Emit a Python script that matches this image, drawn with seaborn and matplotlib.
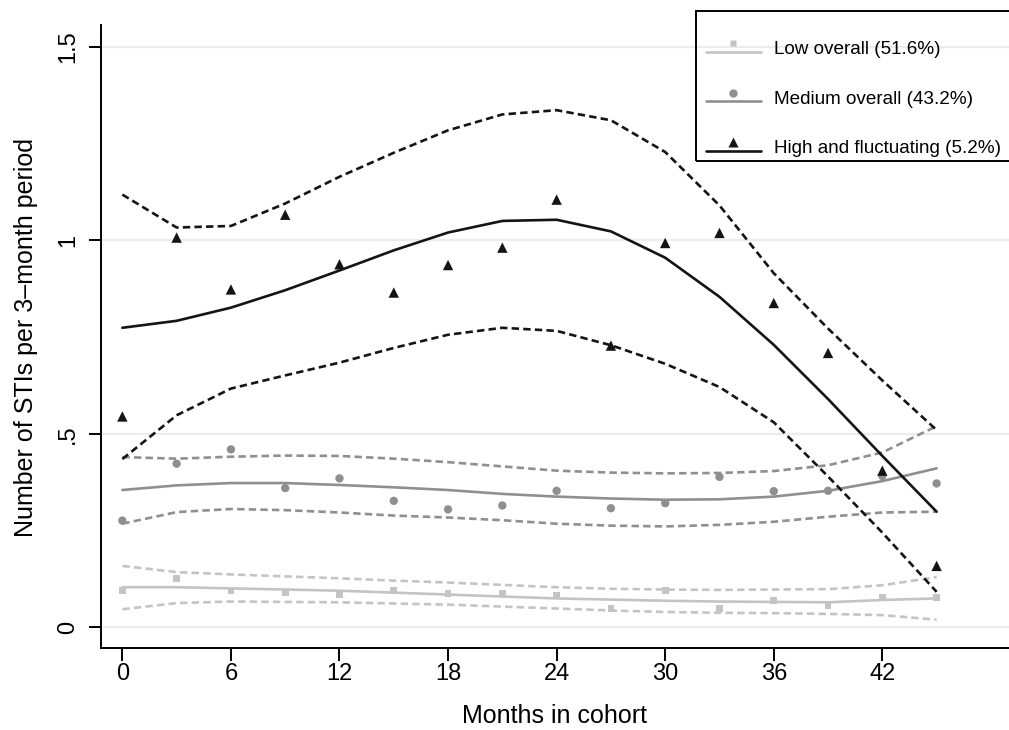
import numpy as np
import pandas as pd
import matplotlib
matplotlib.use("Agg")
import matplotlib.pyplot as plt
import seaborn as sns
from matplotlib.lines import Line2D
from matplotlib.patches import Rectangle
from matplotlib.legend_handler import HandlerLine2D, HandlerTuple

# months in cohort (3-month periods)
months = [0, 3, 6, 9, 12, 15, 18, 21, 24, 27, 30, 33, 36, 39, 42, 45]

# low overall
low_obs = [0.095, 0.126, 0.096, 0.089, 0.086, 0.095, 0.087, 0.089, 0.084, 0.050, 0.095, 0.050, 0.069, 0.057, 0.077, 0.078]
low_fit = [0.104, 0.104, 0.101, 0.098, 0.095, 0.090, 0.085, 0.080, 0.075, 0.072, 0.069, 0.067, 0.066, 0.065, 0.071, 0.075]
low_hi = [0.159, 0.143, 0.137, 0.132, 0.127, 0.121, 0.116, 0.110, 0.104, 0.100, 0.098, 0.097, 0.098, 0.099, 0.109, 0.130]
low_lo = [0.047, 0.063, 0.067, 0.066, 0.065, 0.062, 0.059, 0.054, 0.049, 0.044, 0.040, 0.038, 0.037, 0.035, 0.032, 0.020]

# medium overall
med_obs = [0.276, 0.423, 0.460, 0.360, 0.385, 0.327, 0.305, 0.315, 0.353, 0.308, 0.321, 0.389, 0.352, 0.353, 0.391, 0.372]
med_fit = [0.355, 0.367, 0.373, 0.373, 0.368, 0.362, 0.355, 0.345, 0.338, 0.333, 0.330, 0.331, 0.338, 0.353, 0.378, 0.411]
med_hi = [0.440, 0.436, 0.441, 0.444, 0.443, 0.436, 0.427, 0.416, 0.405, 0.400, 0.398, 0.399, 0.404, 0.419, 0.452, 0.520]
med_lo = [0.268, 0.298, 0.306, 0.303, 0.297, 0.289, 0.284, 0.277, 0.268, 0.263, 0.261, 0.265, 0.273, 0.286, 0.297, 0.299]

# high and fluctuating
high_obs = [0.545, 1.007, 0.873, 1.066, 0.938, 0.865, 0.936, 0.981, 1.105, 0.728, 0.993, 1.019, 0.838, 0.709, 0.405, 0.159]
high_fit = [0.774, 0.792, 0.826, 0.871, 0.922, 0.974, 1.020, 1.050, 1.053, 1.023, 0.955, 0.854, 0.730, 0.590, 0.443, 0.299]
high_hi = [1.118, 1.033, 1.037, 1.095, 1.164, 1.226, 1.284, 1.325, 1.336, 1.310, 1.228, 1.090, 0.915, 0.772, 0.638, 0.510]
high_lo = [0.435, 0.548, 0.617, 0.651, 0.684, 0.722, 0.756, 0.774, 0.766, 0.729, 0.681, 0.621, 0.530, 0.390, 0.245, 0.092]

labels = ["Low overall (51.6%)", "Medium overall (43.2%)", "High and fluctuating (5.2%)"]
xticks = [0, 6, 12, 18, 24, 30, 36, 42]
yticks = [0, 0.5, 1, 1.5]
ytick_labels = ["0", ".5", "1", "1.5"]

sns.set_style("white")
plt.rcParams["font.family"] = ["Liberation Sans", "DejaVu Sans"]
plt.rcParams["text.color"] = "black"
plt.rcParams["axes.labelcolor"] = "black"
plt.rcParams["xtick.color"] = "black"
plt.rcParams["ytick.color"] = "black"

fig = plt.figure(figsize=(10.09, 7.30), dpi=100)
ax = fig.add_axes([101 / 1009, 82 / 730, 908 / 1009, 623 / 730])

groups = [
    (low_obs, low_fit, low_hi, low_lo, "#c4c4c4", "s", 24, 2),
    (med_obs, med_fit, med_hi, med_lo, "#8f8f8f", "o", 36, 3),
    (high_obs, high_fit, high_hi, high_lo, "#141414", "^", 56, 4),
]

dash = (2.8, 1.6)
for obs, fit, hi, lo, col, mk, sz, z in groups:
    sns.lineplot(x=months, y=hi, ax=ax, color=col, lw=1.9, dashes=False,
                 linestyle=(0, dash), zorder=z)
    sns.lineplot(x=months, y=lo, ax=ax, color=col, lw=1.9, dashes=False,
                 linestyle=(0, dash), zorder=z)
    sns.lineplot(x=months, y=fit, ax=ax, color=col, lw=1.9, zorder=z)
    sns.scatterplot(x=months, y=obs, ax=ax, color=col, marker=mk, s=sz,
                    edgecolor="none", zorder=z + 0.5)

ax.set_xlim(-1.18, 49.0)
ax.set_ylim(-0.053, 1.556)
ax.set_xticks(xticks)
ax.set_yticks(yticks)
ax.set_yticklabels(ytick_labels, rotation=90, va="center")
ax.yaxis.grid(True, color="#ececec", lw=1.6, zorder=0)
ax.xaxis.grid(False)
ax.set_axisbelow(True)

for side in ["top", "right"]:
    ax.spines[side].set_visible(False)
for side in ["left", "bottom"]:
    ax.spines[side].set_linewidth(1.4)
    ax.spines[side].set_color("black")

ax.tick_params(axis="both", which="major", length=9, width=1.4, color="black",
               labelcolor="black", labelsize=17, direction="out",
               bottom=True, left=True)
ax.tick_params(axis="y", pad=7)
ax.tick_params(axis="x", pad=2)

ax.set_xlabel("Months in cohort", fontsize=18)
ax.set_ylabel("Number of STIs per 3\u2013month period", fontsize=18)
ax.xaxis.set_label_coords(0.5, -0.0904)
ax.yaxis.set_label_coords(-0.0694, 0.4984)


class ShiftedLine(HandlerLine2D):
    def __init__(self, dy, **kw):
        super().__init__(**kw)
        self.dy = dy

    def create_artists(self, legend, orig_handle, xdescent, ydescent, width, height, fontsize, trans):
        arts = super().create_artists(legend, orig_handle, xdescent, ydescent, width, height, fontsize, trans)
        for a in arts:
            a.set_ydata(np.asarray(a.get_ydata()) + self.dy)
        return arts


handles = []
hmap = {tuple: HandlerTuple(ndivide=1, pad=0)}
for obs, fit, hi, lo, col, mk, sz, z in groups:
    ln = Line2D([], [], color=col, lw=1.9)
    mh = Line2D([], [], color=col, marker=mk, linestyle="None", markersize=np.sqrt(sz),
                markeredgecolor="none")
    hmap[ln] = ShiftedLine(-3)
    hmap[mh] = ShiftedLine(3)
    handles.append((ln, mh))

leg = fig.legend(handles, labels, handler_map=hmap, loc="upper left",
                 bbox_to_anchor=(706 / 1009, 1 - 41 / 730), frameon=False,
                 fontsize=13.6, handlelength=2.9, handletextpad=0.7,
                 labelspacing=1.71, borderpad=0, borderaxespad=0)

fig.add_artist(Rectangle((696 / 1009, 1 - 161 / 730), 340 / 1009, 150 / 730,
                         transform=fig.transFigure, fill=False, lw=1.4,
                         edgecolor="black", clip_on=False))

fig.savefig("out.png", dpi=100)
